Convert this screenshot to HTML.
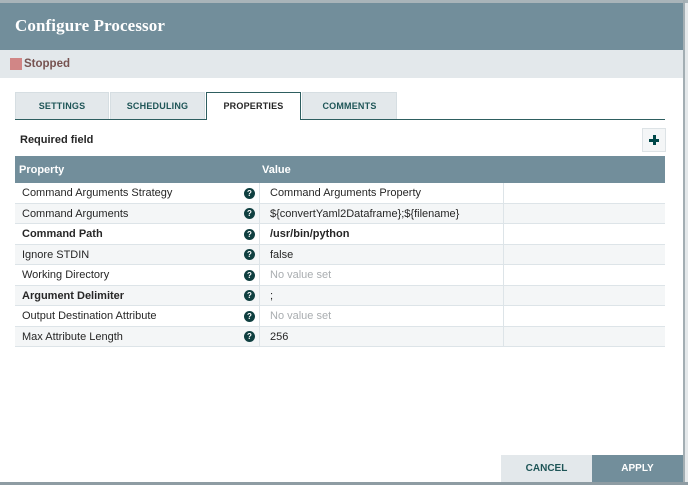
<!DOCTYPE html>
<html><head><meta charset="utf-8">
<style>
*{margin:0;padding:0;box-sizing:border-box}
html,body{width:688px;height:485px;overflow:hidden;background:#e4e8ea;font-family:"Liberation Sans",Arial,sans-serif;color:#262626}
.abs{position:absolute}
#top{left:0;top:0;width:688px;height:3px;background:#a9b4b9}
#rline{left:683px;top:0;width:2px;height:485px;background:#a3aeb3}
#bot{left:0;top:482px;width:688px;height:3px;background:#8e9ca3}
#hdr{left:0;top:3px;width:683px;height:47px;background:#728e9b}
#title{left:15px;top:16px;font-family:"Liberation Serif","DejaVu Serif",serif;font-weight:bold;font-size:17px;color:#fff;letter-spacing:0.1px}
#status{left:0;top:50px;width:683px;height:28px;background:#e3e8eb}
#sq{left:10px;top:58px;width:12px;height:12px;background:#d18686}
#stxt{left:24px;top:58px;font-size:11.5px;font-weight:bold;color:#775351}
#body{left:0;top:78px;width:683px;height:404px;background:#fff}
.tab{position:absolute;top:92px;height:27px;background:#e3e8eb;border:1px solid #d6dee2;border-bottom:none;font-size:9px;font-weight:bold;color:#1e5557;text-align:center;line-height:26px;letter-spacing:0.2px}
.tab.act{background:#fff;border:1px solid #2e5e60;border-bottom:none;color:#262626;height:28px;z-index:2}
#uline{left:15px;top:119px;width:650px;height:1px;background:#2e5e60}
#req{left:20px;top:134px;font-size:11px;font-weight:bold;color:#262626}
#plus{left:642px;top:128px;width:24px;height:24px;background:#f4f6f7;border:1px solid #dde3e6}
#plus:before{content:"";position:absolute;left:6px;top:9.5px;width:10px;height:3px;background:#004849}
#plus:after{content:"";position:absolute;left:9.5px;top:6px;width:3px;height:10px;background:#004849}
#thead{left:15px;top:156px;width:650px;height:27px;background:#728e9b;color:#fff;font-size:11px;font-weight:bold}
#thead span{position:absolute;top:8px}
.row{position:absolute;left:15px;width:650px;height:20.5px;border-bottom:1px solid #dde4e8;font-size:11px}
.row.g{background:#f4f6f7}
.row .p{position:absolute;left:7px;top:4px;white-space:nowrap}
.row .v{position:absolute;left:255px;top:4px;white-space:nowrap}
.row .s1{position:absolute;left:244px;top:0;width:1px;height:100%;background:#dde4e8}
.row .s2{position:absolute;left:488px;top:0;width:1px;height:100%;background:#dde4e8}
.row .h{position:absolute;left:229px;top:4.5px;width:11px;height:11px;border-radius:50%;background:#0f3f40;color:#fff;font-size:8px;font-weight:bold;text-align:center;line-height:11px}
.b{font-weight:bold}
.ns{color:#a9adb0}
#cancel{left:501px;top:455px;width:91px;height:27px;background:#e3e8eb;color:#1e5557;font-size:10px;font-weight:bold;text-align:center;line-height:27px}
#apply{left:592px;top:455px;width:91px;height:27px;background:#728e9b;color:#fff;font-size:10px;font-weight:bold;text-align:center;line-height:27px}
</style></head><body>
<div class="abs" id="top"></div>
<div class="abs" id="rline"></div>
<div class="abs" id="hdr"></div>
<div class="abs" id="title">Configure Processor</div>
<div class="abs" id="status"></div>
<div class="abs" id="sq"></div>
<div class="abs" id="stxt">Stopped</div>
<div class="abs" id="body"></div>

<div class="tab" style="left:15px;width:94px">SETTINGS</div>
<div class="tab" style="left:110px;width:95px">SCHEDULING</div>
<div class="tab act" style="left:206px;width:95px">PROPERTIES</div>
<div class="tab" style="left:302px;width:95px">COMMENTS</div>
<div class="abs" id="uline"></div>

<div class="abs" id="req">Required field</div>
<div class="abs" id="plus"></div>

<div class="abs" id="thead"><span style="left:4px">Property</span><span style="left:247px">Value</span></div>

<div class="row" style="top:183px"><span class="p">Command Arguments Strategy</span><span class="h">?</span><span class="s1"></span><span class="v">Command Arguments Property</span><span class="s2"></span></div>
<div class="row g" style="top:203.5px"><span class="p">Command Arguments</span><span class="h">?</span><span class="s1"></span><span class="v">${convertYaml2Dataframe};${filename}</span><span class="s2"></span></div>
<div class="row" style="top:224px"><span class="p b">Command Path</span><span class="h">?</span><span class="s1"></span><span class="v b">/usr/bin/python</span><span class="s2"></span></div>
<div class="row g" style="top:244.5px"><span class="p">Ignore STDIN</span><span class="h">?</span><span class="s1"></span><span class="v">false</span><span class="s2"></span></div>
<div class="row" style="top:265px"><span class="p">Working Directory</span><span class="h">?</span><span class="s1"></span><span class="v ns">No value set</span><span class="s2"></span></div>
<div class="row g" style="top:285.5px"><span class="p b">Argument Delimiter</span><span class="h">?</span><span class="s1"></span><span class="v">;</span><span class="s2"></span></div>
<div class="row" style="top:306px"><span class="p">Output Destination Attribute</span><span class="h">?</span><span class="s1"></span><span class="v ns">No value set</span><span class="s2"></span></div>
<div class="row g" style="top:326.5px"><span class="p">Max Attribute Length</span><span class="h">?</span><span class="s1"></span><span class="v">256</span><span class="s2"></span></div>

<div class="abs" id="cancel">CANCEL</div>
<div class="abs" id="apply">APPLY</div>
<div class="abs" id="bot"></div>
</body></html>
